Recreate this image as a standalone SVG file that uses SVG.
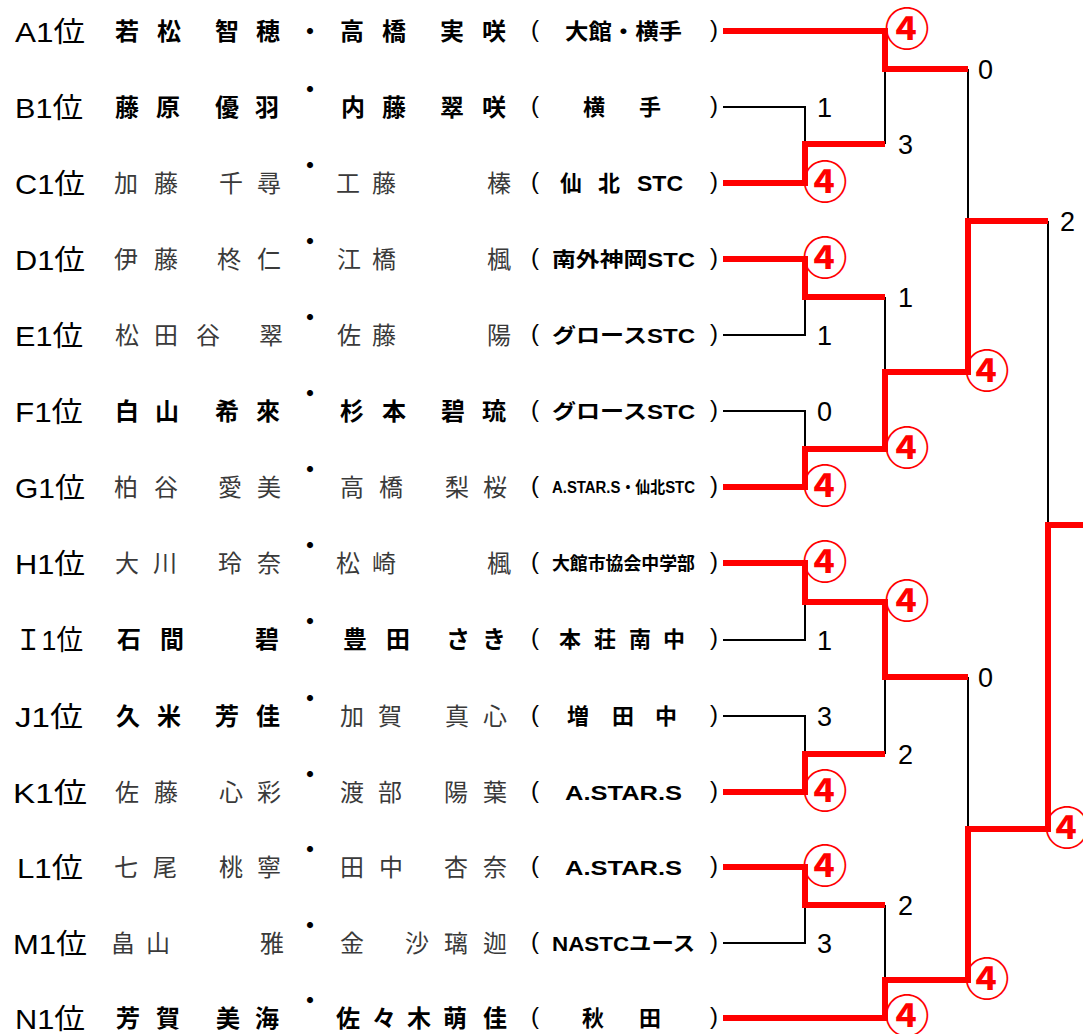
<svg xmlns="http://www.w3.org/2000/svg" width="1083" height="1034" viewBox="0 0 1083 1034">
<style>
.lbl{font-family:"Liberation Sans","Noto Sans CJK JP",sans-serif;font-size:28px;fill:#000}
.nm{font-family:"Noto Sans CJK JP",sans-serif;font-size:24px;text-anchor:middle}
.b{font-weight:700;fill:#000}
.l{font-weight:400;fill:#3a3a3a}
.dot{font-family:"Noto Sans CJK JP",sans-serif;font-size:24px;font-weight:700;text-anchor:middle;fill:#000}
.par{font-family:"Liberation Sans",sans-serif;font-size:24px;text-anchor:middle;fill:#000}
.tm{font-family:"Liberation Sans","Noto Sans CJK JP",sans-serif;font-weight:700;fill:#000}
.tc{font-family:"Noto Sans CJK JP",sans-serif;font-size:22px;font-weight:700;text-anchor:middle;fill:#000}
.red{fill:none;stroke:#ff0000;stroke-width:6;stroke-linejoin:miter;stroke-linecap:butt}
.blk{fill:none;stroke:#000;stroke-width:2}
.sc{font-family:"Liberation Sans",sans-serif;font-size:27px;fill:#000}
.w{font-family:"Noto Sans CJK JP",sans-serif;font-size:45px;font-weight:700;fill:#ff0000;text-anchor:middle}
</style>
<rect width="1083" height="1034" fill="#fff"/>
<g id="connectors">
<path class="blk" d="M723,107 H805 V144"/>
<path class="blk" d="M885,144 V69"/>
<path class="blk" d="M968,69 V221"/>
<path class="blk" d="M723,335 H805 V297"/>
<path class="blk" d="M723,411 H805 V449"/>
<path class="blk" d="M885,297 V372"/>
<path class="blk" d="M1048,221 V525"/>
<path class="blk" d="M723,640 H805 V602"/>
<path class="blk" d="M885,677 V754"/>
<path class="blk" d="M723,716 H805 V754"/>
<path class="blk" d="M968,677 V829"/>
<path class="blk" d="M723,943 H805 V905"/>
<path class="blk" d="M885,905 V980"/>
<path class="red" d="M723,31 H885 V69 H968"/>
<path class="red" d="M723,183 H805 V144 H885"/>
<path class="red" d="M723,259 H805 V297 H885"/>
<path class="red" d="M723,487 H805 V449 H885 V372 H968 V221 H1048"/>
<path class="red" d="M723,563 H805 V602 H885 V677 H968"/>
<path class="red" d="M723,792 H805 V754 H885"/>
<path class="red" d="M723,867 H805 V905 H885"/>
<path class="red" d="M723,1018 H885 V980 H968 V829 H1048 V525 H1083"/>
</g>
<g id="scores">
<text class="sc" x="817" y="117">1</text>
<text class="sc" x="898" y="154">3</text>
<text class="sc" x="978" y="79">0</text>
<text class="sc" x="1060" y="231">2</text>
<text class="sc" x="898" y="307">1</text>
<text class="sc" x="817" y="345">1</text>
<text class="sc" x="817" y="421">0</text>
<text class="sc" x="817" y="650">1</text>
<text class="sc" x="978" y="687">0</text>
<text class="sc" x="817" y="726">3</text>
<text class="sc" x="898" y="764">2</text>
<text class="sc" x="898" y="915">2</text>
<text class="sc" x="817" y="953">3</text>
<text class="w" x="907" y="46">④</text>
<text class="w" x="825" y="199">④</text>
<text class="w" x="825" y="275">④</text>
<text class="w" x="825" y="503">④</text>
<text class="w" x="907" y="465">④</text>
<text class="w" x="987" y="388">④</text>
<text class="w" x="825" y="579">④</text>
<text class="w" x="907" y="618">④</text>
<text class="w" x="825" y="808">④</text>
<text class="w" x="825" y="883">④</text>
<text class="w" x="907" y="1033">④</text>
<text class="w" x="987" y="996">④</text>
<text class="w" x="1067" y="845">④</text>
</g>
<g id="row-A">
<text class="lbl" x="15" y="42" textLength="70" lengthAdjust="spacingAndGlyphs">A1位</text>
<text class="nm b" x="127 169 227 268" y="40">若松智穂</text>
<text class="dot" x="310" y="40">・</text>
<text class="nm b" x="352 394 452 494" y="40">高橋実咲</text>
<text class="par" x="535" y="37">(</text>
<text class="tm" x="565" y="39" font-size="22" textLength="117" lengthAdjust="spacingAndGlyphs">大館・横手</text>
<text class="par" x="714" y="37">)</text>
</g>
<g id="row-B">
<text class="lbl" x="15" y="118" textLength="68" lengthAdjust="spacingAndGlyphs">B1位</text>
<text class="nm b" x="127 168 227 267" y="116">藤原優羽</text>
<text class="dot" x="310" y="98">・</text>
<text class="nm b" x="353 394 452 494" y="116">内藤翠咲</text>
<text class="par" x="535" y="113">(</text>
<text class="tc" x="594 650" y="115">横手</text>
<text class="par" x="714" y="113">)</text>
</g>
<g id="row-C">
<text class="lbl" x="15" y="194" textLength="70" lengthAdjust="spacingAndGlyphs">C1位</text>
<text class="nm l" x="126 166 231 269" y="192">加藤千尋</text>
<text class="dot" x="310" y="174">・</text>
<text class="nm l" x="348 384 499" y="192">工藤榛</text>
<text class="par" x="535" y="189">(</text>
<text class="tc" x="571 609" y="191">仙北</text>
<text class="tm" x="637" y="191" font-size="22" textLength="46" lengthAdjust="spacingAndGlyphs">STC</text>
<text class="par" x="714" y="189">)</text>
</g>
<g id="row-D">
<text class="lbl" x="15" y="270" textLength="70" lengthAdjust="spacingAndGlyphs">D1位</text>
<text class="nm l" x="126 166 229 269" y="268">伊藤柊仁</text>
<text class="dot" x="310" y="250">・</text>
<text class="nm l" x="349 384 499" y="268">江橋楓</text>
<text class="par" x="535" y="265">(</text>
<text class="tm" x="552" y="266.5" font-size="20" textLength="143" lengthAdjust="spacingAndGlyphs">南外神岡STC</text>
<text class="par" x="714" y="265">)</text>
</g>
<g id="row-E">
<text class="lbl" x="15" y="346" textLength="68" lengthAdjust="spacingAndGlyphs">E1位</text>
<text class="nm l" x="127 166 208 271" y="344">松田谷翠</text>
<text class="dot" x="310" y="326">・</text>
<text class="nm l" x="349 384 499" y="344">佐藤陽</text>
<text class="par" x="535" y="341">(</text>
<text class="tm" x="552" y="342.5" font-size="20" textLength="143" lengthAdjust="spacingAndGlyphs">グロースSTC</text>
<text class="par" x="714" y="341">)</text>
</g>
<g id="row-F">
<text class="lbl" x="15" y="422" textLength="68" lengthAdjust="spacingAndGlyphs">F1位</text>
<text class="nm b" x="127 167 227 268" y="420">白山希來</text>
<text class="dot" x="310" y="402">・</text>
<text class="nm b" x="352 394 453 494" y="420">杉本碧琉</text>
<text class="par" x="535" y="417">(</text>
<text class="tm" x="552" y="418.5" font-size="20" textLength="143" lengthAdjust="spacingAndGlyphs">グロースSTC</text>
<text class="par" x="714" y="417">)</text>
</g>
<g id="row-G">
<text class="lbl" x="15" y="498" textLength="70" lengthAdjust="spacingAndGlyphs">G1位</text>
<text class="nm l" x="126 166 230 269" y="496">柏谷愛美</text>
<text class="dot" x="310" y="478">・</text>
<text class="nm l" x="352 391 457 495" y="496">高橋梨桜</text>
<text class="par" x="535" y="493">(</text>
<text class="tm" x="552" y="493" font-size="16" font-weight="400" textLength="143" lengthAdjust="spacingAndGlyphs">A.STAR.S・仙北STC</text>
<text class="par" x="714" y="493">)</text>
</g>
<g id="row-H">
<text class="lbl" x="15" y="574" textLength="70" lengthAdjust="spacingAndGlyphs">H1位</text>
<text class="nm l" x="127 165 230 269" y="572">大川玲奈</text>
<text class="dot" x="310" y="554">・</text>
<text class="nm l" x="348 384 499" y="572">松崎楓</text>
<text class="par" x="535" y="569">(</text>
<text class="tm" x="552" y="570" font-size="18" textLength="143" lengthAdjust="spacingAndGlyphs">大館市協会中学部</text>
<text class="par" x="714" y="569">)</text>
</g>
<g id="row-I">
<text class="lbl" x="15" y="650" textLength="68" lengthAdjust="spacingAndGlyphs">Ｉ1位</text>
<text class="nm b" x="129 172 267" y="648">石間碧</text>
<text class="dot" x="310" y="630">・</text>
<text class="nm b" x="355 398 458 494" y="648">豊田さき</text>
<text class="par" x="535" y="645">(</text>
<text class="tc" x="570 605 640 674" y="647">本荘南中</text>
<text class="par" x="714" y="645">)</text>
</g>
<g id="row-J">
<text class="lbl" x="15" y="727" textLength="68" lengthAdjust="spacingAndGlyphs">J1位</text>
<text class="nm b" x="128 169 227 268" y="725">久米芳佳</text>
<text class="dot" x="310" y="707">・</text>
<text class="nm l" x="352 390 457 495" y="725">加賀真心</text>
<text class="par" x="535" y="722">(</text>
<text class="tc" x="578 623 666" y="724">増田中</text>
<text class="par" x="714" y="722">)</text>
</g>
<g id="row-K">
<text class="lbl" x="13" y="803" textLength="74" lengthAdjust="spacingAndGlyphs">K1位</text>
<text class="nm l" x="127 166 231 269" y="801">佐藤心彩</text>
<text class="dot" x="310" y="783">・</text>
<text class="nm l" x="352 390 456 495" y="801">渡部陽葉</text>
<text class="par" x="535" y="798">(</text>
<text class="tm" x="565" y="799.5" font-size="21" font-weight="400" textLength="117" lengthAdjust="spacingAndGlyphs">A.STAR.S</text>
<text class="par" x="714" y="798">)</text>
</g>
<g id="row-L">
<text class="lbl" x="17" y="878" textLength="66" lengthAdjust="spacingAndGlyphs">L1位</text>
<text class="nm l" x="126 165 231 269" y="876">七尾桃寧</text>
<text class="dot" x="310" y="858">・</text>
<text class="nm l" x="352 391 456 495" y="876">田中杏奈</text>
<text class="par" x="535" y="873">(</text>
<text class="tm" x="565" y="874.5" font-size="21" font-weight="400" textLength="117" lengthAdjust="spacingAndGlyphs">A.STAR.S</text>
<text class="par" x="714" y="873">)</text>
</g>
<g id="row-M">
<text class="lbl" x="13" y="954" textLength="74" lengthAdjust="spacingAndGlyphs">M1位</text>
<text class="nm l" x="123 158 272" y="952">畠山雅</text>
<text class="dot" x="310" y="934">・</text>
<text class="nm l" x="352 417 456 495" y="952">金沙璃迦</text>
<text class="par" x="535" y="949">(</text>
<text class="tm" x="552" y="950.5" font-size="20" font-weight="400" textLength="143" lengthAdjust="spacingAndGlyphs">NASTCユース</text>
<text class="par" x="714" y="949">)</text>
</g>
<g id="row-N">
<text class="lbl" x="15" y="1029" textLength="70" lengthAdjust="spacingAndGlyphs">N1位</text>
<text class="nm b" x="128 168 228 267" y="1027">芳賀美海</text>
<text class="dot" x="310" y="1009">・</text>
<text class="nm b" x="348 384 419 455 495" y="1027">佐々木萌佳</text>
<text class="par" x="535" y="1024">(</text>
<text class="tc" x="593 650" y="1026">秋田</text>
<text class="par" x="714" y="1024">)</text>
</g>
</svg>
